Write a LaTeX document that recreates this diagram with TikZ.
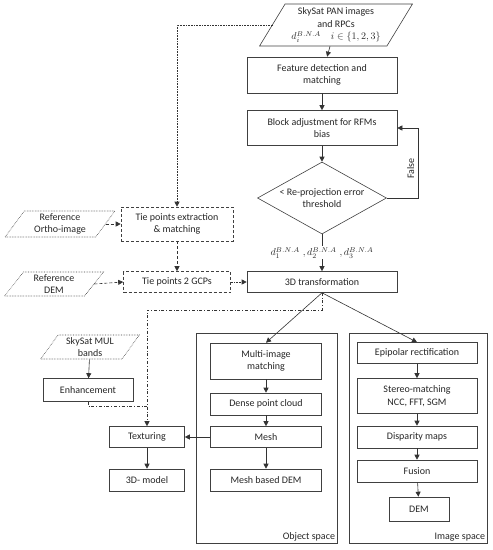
\documentclass[tikz,border=0pt]{standalone}
\usepackage{fontspec}
\setmainfont{Carlito}
\usetikzlibrary{shapes.geometric,arrows.meta}
\begin{document}
\begin{tikzpicture}[x=1pt, y=-1pt, line width=0.6pt, font=\fontsize{10}{12.5}\selectfont, text=black!85,
    box/.style={draw=black!75, rectangle, align=center, inner sep=1pt},
    para/.style={draw=black!75, trapezium, trapezium left angle=58, trapezium right angle=122, trapezium stretches=true, align=center, inner sep=1pt},
    frame/.style={draw=black!75, rectangle, inner sep=0pt},
    arr/.style={draw=black!80, -{Triangle[length=5pt,width=5pt]}},
    dotarr/.style={arr, densely dotted},
    dasharr/.style={arr, densely dashed}]
  \useasboundingbox (0,0) rectangle (493,550);
  \node[para, minimum width=153pt, minimum height=42pt] (pan) at (336,25) {SkySat PAN images\\and RPCs\\$d_i^{B.N.A}\quad i\in\{1,2,3\}$};
  \node[box, minimum width=150pt, minimum height=36pt] (feat)  at (322,75)  {Feature detection and\\matching};
  \node[box, minimum width=150pt, minimum height=35pt] (block) at (322,128) {Block adjustment for RFMs\\bias};
  \node[draw=black!75, diamond, aspect=1.8, inner sep=-3pt, minimum width=129pt, minimum height=72pt, align=center] (dia) at (322,198) {< Re-projection error\\threshold};
  \node[box, densely dashed, minimum width=112pt, minimum height=34pt] (tieext) at (177,224) {Tie points extraction\\\& matching};
  \node[para, densely dotted, minimum width=110pt, minimum height=26pt] (ortho) at (60,224) {Reference\\Ortho-image};
  \node[box, densely dashed, minimum width=107pt, minimum height=21pt] (gcp) at (177,282) {Tie points 2 GCPs};
  \node[para, densely dotted, minimum width=99pt, minimum height=24pt] (refdem) at (54,284) {Reference\\DEM};
  \node[box, minimum width=150pt, minimum height=21pt] (trans) at (322,282) {3D transformation};
  \node[para, densely dotted, minimum width=99pt, minimum height=24pt] (mul) at (90,347) {SkySat MUL\\bands};
  \node[box, minimum width=90pt, minimum height=23pt] (enh)   at (88,390)  {Enhancement};
  \node[box, minimum width=75pt, minimum height=21pt] (tex)   at (147,437) {Texturing};
  \node[box, minimum width=75pt, minimum height=22pt] (model) at (147,480) {3D- model};
  \node[frame, minimum width=141pt, minimum height=210pt] (objfr) at (266.5,438) {};
  \node[frame, minimum width=138pt, minimum height=210pt] (imgfr) at (418,438) {};
  \node[anchor=south east, inner sep=2pt] at (objfr.south east) {Object space};
  \node[anchor=south east, inner sep=2pt] at (imgfr.south east) {Image space};
  \node[box, minimum width=111pt, minimum height=36pt] (multi) at (266,361) {Multi-image\\matching};
  \node[box, minimum width=111pt, minimum height=22pt] (dense) at (266,404) {Dense point cloud};
  \node[box, minimum width=111pt, minimum height=21pt] (mesh)  at (266,437) {Mesh};
  \node[box, minimum width=111pt, minimum height=22pt] (mdem)  at (266,480) {Mesh based DEM};
  \node[box, minimum width=120pt, minimum height=21pt] (epi)    at (417,353) {Epipolar rectification};
  \node[box, minimum width=120pt, minimum height=35pt] (stereo) at (417,396) {Stereo-matching\\NCC, FFT, SGM};
  \node[box, minimum width=120pt, minimum height=22pt] (disp)   at (417,437) {Disparity maps};
  \node[box, minimum width=120pt, minimum height=22pt] (fusion) at (417,471) {Fusion};
  \node[box, minimum width=60pt,  minimum height=24pt] (dem)    at (419,509) {DEM};
  \draw[arr] (pan) -- (feat);
  \draw[arr] (feat) -- (block);
  \draw[arr] (block) -- (dia);
  \draw[arr] (dia.east) -- ++(31,0) |- node[pos=0.21, above, rotate=90] {False} (block.east);
  \draw[arr] (dia.south) -- node[fill=white, inner sep=1pt] {$d_1^{B.N.A}\;,d_2^{B.N.A}\;,d_3^{B.N.A}$} (trans.north);
  \draw[dotarr] ([xshift=-63pt]pan.center) -| (tieext.north);
  \draw[dasharr] (ortho.right side) -- (tieext.west);
  \draw[dasharr] (tieext) -- (gcp);
  \draw[dasharr] (refdem.right side) -- (gcp.west);
  \draw[dotarr] (gcp) -- (trans);
  \draw[arr] (trans.south) -- (multi.north);
  \draw[arr] (trans.south) -- (epi.north);
  \draw[arr, dash dot] (trans.south) -- ++(0,17) -| (tex.north);
  \draw[draw=black!80, dash dot] (enh.south) |- ([yshift=20pt]tex.north);
  \draw[arr] (mul) -- (enh);
  \draw[arr] (mesh) -- (tex);
  \draw[arr] (tex) -- (model);
  \draw[arr] (multi) -- (dense);
  \draw[arr] (dense) -- (mesh);
  \draw[arr] (mesh) -- (mdem);
  \draw[arr] (epi) -- (stereo);
  \draw[arr] (stereo) -- (disp);
  \draw[arr] (disp) -- (fusion);
  \draw[arr] (fusion) -- (dem);
\end{tikzpicture}
\end{document}
